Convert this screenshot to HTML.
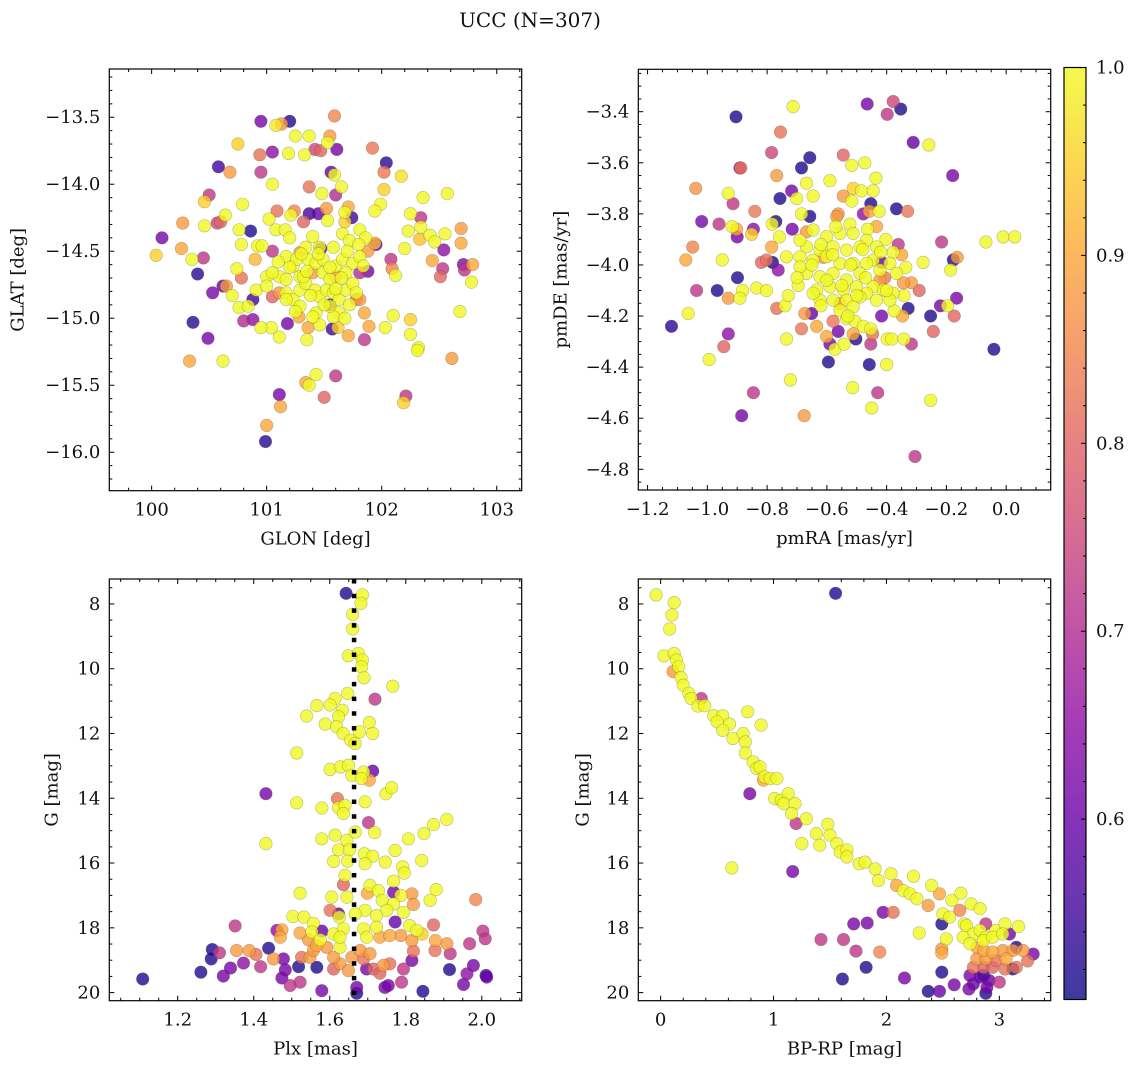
<!DOCTYPE html>
<html><head><meta charset="utf-8">
<style>
html,body{margin:0;padding:0;background:#fff;}
svg{display:block;}
text{font-family:"DejaVu Serif","Liberation Serif",serif;fill:#111;}
</style></head>
<body>
<svg id="fig" width="1136" height="1067" viewBox="0 0 1136 1067" xmlns="http://www.w3.org/2000/svg">
<defs>
<linearGradient id="cbgrad" x1="0" y1="1" x2="0" y2="0">
<stop offset="0" stop-color="#0d0887"/><stop offset="0.1" stop-color="#41049d"/><stop offset="0.2" stop-color="#6a00a8"/><stop offset="0.3" stop-color="#8f0da4"/><stop offset="0.4" stop-color="#b12a90"/><stop offset="0.5" stop-color="#cc4778"/><stop offset="0.6" stop-color="#e16462"/><stop offset="0.7" stop-color="#f2844b"/><stop offset="0.8" stop-color="#fca636"/><stop offset="0.9" stop-color="#fcce25"/><stop offset="1" stop-color="#f0f921"/>
</linearGradient>
</defs>
<text x="530" y="27" text-anchor="middle" font-size="20">UCC (N=307)</text>
</svg>
<script>
// ---------- Panel 1: GLON / GLAT ----------
const glon = [100.95,101.20,101.08,101.13,101.59,101.25,101.37,101.55,101.53,100.75,100.94,101.05,101.19,101.33,101.42,101.47,101.61,101.92,102.04,102.02,102.17,100.58,100.68,100.95,101.56,101.59,101.05,101.37,101.65,101.48,101.60,102.02,102.36,102.57,100.50,100.46,100.79,101.99,101.94,100.64,101.09,101.21,101.24,101.37,101.45,101.52,101.68,101.74,101.71,102.25,102.34,100.27,100.46,100.57,100.60,100.76,100.86,101.02,101.08,101.16,101.32,101.53,101.68,102.23,102.34,102.42,102.55,102.69,102.33,100.09,100.26,100.04,100.35,100.45,100.40,100.78,100.92,100.96,101.05,100.90,100.74,100.78,100.62,100.65,100.53,100.70,100.76,100.84,100.88,100.80,100.88,100.36,100.49,100.33,100.62,102.20,102.46,102.54,102.69,102.44,102.53,102.51,102.71,102.72,102.79,102.78,102.08,102.09,102.12,102.68,102.61,102.25,102.25,102.32,102.31,102.10,102.03,101.89,101.85,101.71,101.85,101.62,101.57,101.46,101.35,101.36,101.18,101.11,101.04,100.95,101.34,101.37,101.43,101.60,101.50,101.11,101.12,101.00,100.99,102.21,102.19,101.78,101.88,101.81,101.88,101.95,101.94,101.47,101.05,101.28,101.55,
101.17,101.23,101.29,101.36,101.43,101.49,101.55,101.60,101.66,101.75,101.81,101.84,101.17,101.23,101.29,101.34,101.42,101.46,101.52,101.58,101.63,101.69,101.75,101.78,101.63,101.58,101.43,101.29,101.11,101.00,100.91,101.00,101.69,101.58,101.66,101.72,101.40,101.46,101.34,101.81,101.86,101.05,101.17,101.55,101.68,101.40,101.32,101.17,101.26,101.49,101.40,101.29,101.60,101.81,101.11,
101.20,101.30,101.45,101.55,101.65,101.70,101.38,101.50,101.25,101.60,101.35,101.72,101.20,101.80,101.10];
const glat = [-13.53,-13.53,-13.56,-13.55,-13.49,-13.64,-13.64,-13.64,-13.69,-13.70,-13.78,-13.76,-13.77,-13.78,-13.74,-13.75,-13.74,-13.73,-13.84,-13.91,-13.94,-13.87,-13.91,-13.91,-13.91,-13.93,-14.00,-14.02,-14.02,-14.07,-14.08,-14.04,-14.10,-14.07,-14.08,-14.13,-14.15,-14.15,-14.20,-14.23,-14.20,-14.23,-14.20,-14.22,-14.22,-14.18,-14.21,-14.25,-14.17,-14.22,-14.25,-14.29,-14.31,-14.29,-14.28,-14.34,-14.35,-14.26,-14.34,-14.34,-14.28,-14.27,-14.28,-14.35,-14.32,-14.38,-14.37,-14.33,-14.41,-14.40,-14.48,-14.53,-14.56,-14.55,-14.67,-14.45,-14.46,-14.46,-14.50,-14.56,-14.63,-14.70,-14.76,-14.76,-14.81,-14.83,-14.92,-14.91,-14.86,-15.02,-15.01,-15.03,-15.15,-15.32,-15.32,-14.48,-14.43,-14.49,-14.44,-14.57,-14.63,-14.69,-14.60,-14.64,-14.60,-14.73,-14.56,-14.63,-14.68,-14.95,-15.30,-15.01,-15.12,-15.22,-15.24,-14.98,-15.07,-15.06,-15.16,-15.13,-14.96,-15.07,-15.08,-15.05,-15.16,-15.07,-15.04,-15.14,-15.07,-15.07,-15.48,-15.50,-15.42,-15.43,-15.59,-15.57,-15.66,-15.80,-15.92,-15.58,-15.63,-14.86,-14.65,-14.66,-14.50,-14.45,-14.44,-14.48,-14.84,-14.99,-14.90,
-14.54,-14.61,-14.69,-14.56,-14.59,-14.66,-14.71,-14.61,-14.56,-14.59,-14.54,-14.61,-14.81,-14.86,-14.79,-14.74,-14.79,-14.84,-14.79,-14.81,-14.86,-14.79,-14.74,-14.81,-14.96,-14.99,-14.96,-14.91,-14.69,-14.69,-14.79,-14.76,-14.66,-14.47,-14.37,-14.42,-14.39,-14.47,-14.47,-14.34,-14.40,-14.66,-14.86,-14.91,-15.00,-14.99,-14.69,-14.71,-14.56,-14.56,-14.66,-14.51,-14.69,-14.86,-14.81,
-14.62,-14.52,-14.52,-14.62,-14.70,-14.50,-14.83,-14.90,-14.95,-14.78,-14.65,-14.90,-14.40,-14.45,-14.58];
const prob1 = [.62,.52,.98,.88,.85,1,1,.88,1,.95,.82,.65,1,1,.75,.8,.62,.83,.53,.83,.97,.55,.88,.72,.6,1,1,.82,1,1,.7,.95,1,1,.72,.95,1,1,1,1,.82,1,.85,.55,.6,.88,1,.55,.9,1,.72,.88,1,.75,.8,1,.52,1,1,1,.8,1,.95,1,1,1,1,.88,.93,.62,.9,.95,1,.72,.53,1,1,1,.72,.92,1,.82,.6,.88,.62,1,1,1,.55,.7,.65,.53,.62,.9,1,1,1,.65,.9,.9,.72,.8,.63,.72,.9,1,.72,.85,1,1,.88,.95,1,1,1,1,1,.9,.72,.9,.9,.95,.55,1,1,.9,.62,1,1,1,.9,1,1,.72,.8,.62,.9,.9,.53,.72,.95,.82,.62,.7,.88,.6,.92,.55,.8,.9,.62,
1,1,1,1,1,1,1,1,1,1,1,1,1,1,1,1,1,1,1,1,1,1,1,1,1,1,1,1,1,1,1,1,1,1,1,1,1,1,1,1,1,1,1,1,1,1,1,1,1,1,.88,.88,.88,.88,.88,
1,1,1,1,1,1,1,1,1,1,1,1,1,1,1];

// ---------- Panel 2: pmRA / pmDE ----------
const pmra = [-0.904,-0.713,-0.465,-0.378,-0.353,-0.398,-0.311,-0.259,-0.755,-0.785,-0.685,-0.657,-0.891,-0.888,-0.545,-0.517,-0.473,-0.768,-0.668,-0.590,-0.436,-0.179,-1.039,-0.930,-0.914,-0.757,-0.718,-0.701,-0.646,-0.545,-0.512,-0.484,-0.445,-0.517,-0.453,-0.367,-0.330,-0.841,-0.478,-0.425,-0.458,-1.019,-0.961,-0.917,-0.902,-0.900,-0.852,-0.846,-0.783,-0.771,-0.759,-0.716,-0.685,-0.657,-0.668,-0.562,-0.523,-0.464,-0.434,-1.049,-1.072,-0.950,-0.899,-1.036,-0.967,-0.930,-0.882,-0.891,-0.835,-0.802,-1.064,-1.120,-0.930,-0.945,-0.994,-0.819,-0.802,-0.782,-0.763,-0.785,-0.768,-0.740,-0.729,-0.696,-0.735,-0.722,-0.685,-0.674,-0.651,-0.634,-0.846,-0.885,-0.676,-0.601,-0.590,-0.573,-0.595,-0.579,-0.562,-0.542,-0.503,-0.512,-0.534,-0.506,-0.478,-0.453,-0.453,-0.447,-0.458,-0.430,-0.450,-0.514,-0.400,-0.398,-0.383,-0.342,-0.317,-0.305,-0.253,-0.244,-0.253,-0.328,-0.347,-0.417,-0.375,-0.220,-0.196,-0.166,-0.174,-0.291,-0.317,-0.344,-0.342,-0.378,-0.278,-0.186,-0.177,-0.164,-0.216,-0.068,-0.010,0.029,-0.041,-0.361,-0.378,-0.350,-0.402,-0.336,-0.417,-0.406,
-0.646,-0.601,-0.556,-0.512,-0.467,-0.434,-0.668,-0.623,-0.579,-0.534,-0.489,-0.445,-0.690,-0.646,-0.601,-0.556,-0.512,-0.467,-0.423,-0.668,-0.623,-0.579,-0.534,-0.489,-0.445,-0.634,-0.590,-0.545,-0.501,-0.467,-0.411,-0.623,-0.579,-0.534,-0.489,-0.434,-0.389,-0.690,-0.735,-0.690,-0.389,-0.367,-0.512,-0.646,-0.556,-0.567,-0.423,-0.556,-0.612,
-0.62,-0.58,-0.52,-0.47,-0.55,-0.60,-0.50,-0.42,-0.65,-0.70,-0.48,-0.57,-0.40,-0.62,-0.53];
const pmde = [-3.42,-3.38,-3.37,-3.36,-3.39,-3.41,-3.52,-3.53,-3.48,-3.56,-3.62,-3.58,-3.62,-3.62,-3.57,-3.61,-3.60,-3.65,-3.68,-3.67,-3.66,-3.65,-3.70,-3.72,-3.76,-3.74,-3.71,-3.74,-3.73,-3.73,-3.70,-3.71,-3.71,-3.75,-3.76,-3.78,-3.79,-3.79,-3.80,-3.79,-3.79,-3.83,-3.84,-3.85,-3.86,-3.89,-3.88,-3.86,-3.84,-3.83,-3.89,-3.86,-3.80,-3.81,-3.87,-3.80,-3.84,-3.86,-3.85,-3.93,-3.98,-3.98,-4.05,-4.10,-4.10,-4.13,-4.10,-4.13,-4.09,-4.10,-4.19,-4.24,-4.27,-4.32,-4.37,-3.99,-3.98,-3.99,-4.02,-3.93,-4.17,-4.16,-4.12,-4.08,-4.29,-4.45,-4.25,-4.19,-4.19,-4.24,-4.50,-4.59,-4.59,-4.28,-4.31,-4.33,-4.38,-4.22,-4.26,-4.31,-4.29,-4.27,-4.21,-4.22,-4.24,-4.25,-4.31,-4.27,-4.39,-4.50,-4.56,-4.48,-4.39,-4.29,-4.29,-4.29,-4.31,-4.75,-4.53,-4.26,-4.20,-4.17,-4.20,-4.20,-4.18,-4.16,-4.16,-4.13,-4.20,-4.10,-4.07,-4.07,-4.12,-4.11,-3.99,-4.02,-3.98,-3.97,-3.91,-3.91,-3.89,-3.89,-4.33,-3.92,-3.95,-3.96,-3.90,-4.01,-3.99,-4.05,
-3.863,-3.889,-3.877,-3.877,-3.903,-3.929,-3.929,-3.942,-3.929,-3.942,-3.929,-3.981,-3.968,-3.981,-3.968,-3.994,-3.994,-3.994,-4.020,-4.033,-4.046,-4.033,-4.059,-4.033,-4.085,-4.098,-4.085,-4.098,-4.085,-4.111,-4.098,-4.138,-4.138,-4.138,-4.125,-4.138,-4.138,-4.007,-3.968,-3.903,-3.994,-4.033,-4.164,-4.111,-4.177,-3.81,-4.06,-4.15,-3.97,
-3.92,-3.96,-4.00,-4.05,-4.08,-4.06,-4.12,-3.95,-4.00,-4.05,-3.94,-3.85,-4.10,-4.16,-4.20];
const prob2 = [.52,1,.62,.75,.52,.72,.6,1,.82,.75,.52,.52,.65,.82,.8,1,1,.88,1,1,1,.62,.87,1,.72,.52,.62,1,1,.88,.95,1,1,1,.52,.52,.83,.83,.65,1,.9,.62,.72,1,.9,.62,.95,.65,1,.52,1,.62,1,.52,.88,.88,1,1,.9,.85,.9,1,.52,.72,.52,.88,1,1,1,1,1,.53,.65,.8,1,.8,.82,.52,.65,.9,.82,1,1,1,1,1,.83,.88,.6,.9,.72,.62,.88,.9,.62,1,.52,.83,.62,1,.52,.9,1,1,1,1,.72,.82,.52,.72,1,1,1,1,1,1,.72,.72,1,.8,.52,.52,.9,.62,1,.62,1,.62,.8,.8,.88,.88,1,1,1,1,.52,.88,.72,1,1,1,.52,.72,1,.9,1,1,.6,.83,
1,1,1,1,1,1,1,1,1,1,1,1,1,1,1,1,1,1,1,1,1,1,1,1,1,1,1,1,1,1,1,1,1,1,1,1,1,1,1,1,1,1,1,1,1,.88,.88,.88,.88,
1,1,1,1,1,1,1,1,1,1,1,1,1,1,1];

// ---------- Panel 3: Plx / G ----------
const plx = [1.643,1.686,1.682,1.660,1.660,1.649,1.675,1.686,1.684,1.690,1.766,1.719,1.647,1.614,1.566,1.601,1.539,1.633,1.623,1.588,1.618,1.635,1.704,1.713,1.678,1.655,1.667,1.513,1.601,1.628,1.649,1.658,1.689,1.683,1.713,1.704,1.432,1.513,1.579,1.620,1.623,1.640,1.636,1.693,1.748,1.763,1.702,1.432,1.579,1.614,1.645,1.667,1.718,1.623,1.652,1.691,1.713,1.610,1.647,1.693,1.746,1.772,1.807,1.842,1.848,1.873,1.908,1.792,1.796,1.768,1.640,1.636,1.522,1.605,1.645,1.706,1.728,1.768,1.699,1.738,1.787,1.816,1.880,1.864,1.984,1.820,1.768,1.794,1.750,1.693,1.601,1.623,1.503,1.532,1.557,1.625,1.667,1.723,1.772,1.810,1.873,1.351,1.474,1.470,1.461,1.522,1.553,1.579,1.575,1.610,1.636,1.689,1.723,1.697,1.732,1.758,1.787,1.816,1.843,1.878,1.908,1.968,2.003,2.009,1.291,1.310,1.288,1.355,1.388,1.406,1.373,1.339,1.320,1.261,1.108,1.418,1.439,1.452,1.478,1.483,1.474,1.496,1.522,1.518,1.526,1.548,1.566,1.579,1.610,1.627,1.649,1.658,1.671,1.671,1.697,1.715,1.741,1.732,1.758,1.745,1.754,1.794,1.789,1.816,1.820,1.845,1.877,1.917,1.915,1.978,1.961,1.952,2.011,2.013,1.544,1.592,1.627,1.566,1.680,1.706,1.557,1.610,1.689,1.627,1.829];
const gmag3 = [7.67,7.72,7.98,8.32,8.77,9.60,9.53,9.73,9.94,10.28,10.54,10.94,10.76,10.92,11.14,11.12,11.46,11.28,11.48,11.71,11.79,12.00,11.66,12.00,11.95,12.21,12.31,12.60,13.11,13.03,12.98,13.29,13.19,13.39,13.16,13.44,13.86,14.14,14.30,14.01,14.29,14.22,14.47,14.11,13.86,13.67,14.75,15.40,15.25,15.14,15.30,15.04,15.06,15.59,15.59,15.71,15.79,15.95,15.94,16.02,15.97,15.61,15.25,15.92,15.09,14.81,14.65,16.12,16.31,16.56,16.38,16.67,16.93,17.05,17.05,16.69,16.85,16.90,16.93,17.15,17.00,16.95,16.82,17.15,17.13,17.28,17.26,17.52,17.46,17.46,17.46,17.57,17.65,17.67,17.86,17.67,17.57,17.62,17.82,17.93,17.91,17.94,18.06,18.29,18.08,18.16,18.13,18.10,18.37,18.19,18.03,18.03,17.98,18.29,18.29,18.24,18.24,18.39,18.19,18.39,18.49,18.49,18.10,18.34,18.67,18.77,18.96,18.70,18.70,18.82,19.09,19.24,19.49,19.37,19.58,19.20,18.63,18.96,18.96,19.30,19.55,19.78,19.68,19.20,18.91,18.91,19.22,19.94,19.27,19.11,19.32,18.91,19.84,20.02,19.27,19.27,19.16,19.40,19.11,19.84,19.78,19.27,19.68,19.01,18.72,19.96,18.70,18.80,19.29,19.16,19.42,19.75,19.47,19.52,18.37,18.60,18.60,18.55,18.70,18.80,18.70,18.91,18.96,18.29,18.08];
const prob3 = [.52,1,1,1,1,1,1,1,1,1,1,.72,1,1,1,1,1,1,1,1,1,1,1,1,1,1,1,1,1,1,1,1,1,1,.6,.9,.62,1,1,.82,1,1,1,1,1,1,.72,1,1,1,1,1,1,1,1,1,1,1,1,1,1,1,1,1,1,1,1,1,1,1,1,.8,1,1,1,1,1,.62,.9,1,1,.88,1,1,.85,.88,1,1,1,1,.82,.6,1,1,1,1,1,1,.6,1,.8,.72,.9,.9,.65,.9,1,.6,1,1,1,1,1,1,.9,.9,.88,.88,.95,.9,.88,.72,.72,.72,.52,.72,.52,.88,.88,.82,.65,.62,.62,.52,.52,.72,.52,.88,.62,.62,.62,.72,.72,.52,.82,.88,.52,.62,.8,.88,.88,.88,.62,.52,.62,.8,.88,.8,.82,.62,.62,.72,.72,.62,.82,.52,.82,.72,.52,.62,.65,.62,.55,.6,.88,.88,1,.9,.88,.88,.88,.88,.82,1,1];

// ---------- Panel 4: BP-RP / G ----------
const bprp = [-0.04,0.12,0.10,0.08,1.55,0.03,0.12,0.14,0.16,0.11,0.18,0.20,0.25,0.36,0.27,0.33,0.39,0.47,0.55,0.50,0.61,0.55,0.64,0.73,0.75,0.77,0.89,0.75,0.82,0.85,0.88,0.92,0.91,0.97,1.03,0.79,1.01,1.07,1.13,1.09,1.19,1.16,1.20,1.29,1.25,0.63,1.17,1.38,1.48,1.50,1.41,1.56,1.59,1.65,1.65,1.76,1.81,1.90,1.93,2.04,2.09,2.15,2.24,2.21,2.27,2.37,2.40,2.47,2.50,2.58,2.65,2.66,2.75,2.83,2.69,2.56,2.49,2.29,2.53,2.49,2.49,1.97,2.06,1.71,1.83,1.42,1.62,1.73,1.94,1.82,1.61,2.16,2.37,2.47,2.49,2.60,
2.71,2.77,2.83,2.88,2.97,3.05,3.17,2.68,2.74,2.86,2.94,3.03,3.09,2.88,2.80,2.86,2.94,3.03,3.12,3.21,3.15,3.30,3.25,2.80,2.88,2.97,3.06,2.77,2.86,2.94,3.05,3.15,3.12,2.74,2.83,2.91,3.00,2.77,2.89,2.73,2.88,2.86];
const gmag4 = [7.72,7.96,8.34,8.77,7.67,9.60,9.53,9.73,9.94,10.09,10.27,10.51,10.76,10.92,10.92,11.15,11.14,11.45,11.45,11.64,11.71,11.90,12.15,12.00,12.26,11.33,11.74,12.60,12.88,13.08,13.03,13.34,13.44,13.39,13.39,13.86,14.01,14.06,13.86,14.16,14.16,14.47,14.78,14.63,15.40,16.15,16.26,15.09,14.80,15.14,15.45,15.40,15.66,15.59,15.81,16.02,15.97,16.18,16.54,16.33,16.69,16.85,16.41,16.95,17.10,17.31,16.69,16.95,17.57,17.15,17.46,16.93,17.26,17.41,17.88,17.67,17.88,18.16,18.34,18.65,18.78,17.52,17.52,17.88,17.85,18.36,18.36,18.72,18.75,19.22,19.58,19.55,19.96,19.96,19.37,19.76,
17.93,18.19,18.08,18.29,18.08,17.88,17.96,18.29,18.49,18.39,18.29,18.19,18.19,17.88,18.60,18.70,18.75,18.70,18.70,18.70,18.60,18.81,19.02,18.96,18.96,19.01,18.96,19.22,19.22,19.22,19.27,19.22,19.27,19.47,19.52,19.63,19.68,19.73,19.84,19.89,20.02,19.47];
const prob4 = [1,1,1,1,.52,1,1,1,1,.88,1,1,1,.72,1,1,1,1,1,1,1,1,1,1,1,1,1,1,1,1,1,1,.9,1,1,.62,1,1,1,1,1,1,.72,1,1,1,.62,1,1,1,1,1,1,1,1,1,1,1,1,1,.9,1,1,1,1,.88,1,.9,1,1,.85,1,1,1,1,1,.52,1,1,.88,.9,.62,.82,.62,.62,.72,.72,.72,.85,.52,.52,.62,.52,.6,.52,.62,
1,1,1,1,1,1,1,1,1,1,1,1,.62,.72,.9,.9,.9,.88,.88,.88,.52,.62,.82,.88,.88,.82,.9,.82,.8,.8,.82,.82,.52,.62,.6,.6,.72,.6,.62,.62,.52,.52];

const plxMean = [1.664];
const cbTicks = [0.6,0.7,0.8,0.9,1.0];
const probMin = 0.504, probMax = 1.0;

const NS = 'http://www.w3.org/2000/svg';
const svg = document.getElementById('fig');
function mk(tag, attrs, parent){
  const e = document.createElementNS(NS, tag);
  for (const k in attrs) e.setAttribute(k, attrs[k]);
  (parent||svg).appendChild(e);
  return e;
}
const stops = [[13,8,135],[65,4,157],[106,0,168],[143,13,164],[177,42,144],[204,71,120],[225,100,98],[242,132,75],[252,166,54],[252,206,37],[240,249,33]];
function plasma(p){
  let t = (p - probMin)/(probMax - probMin);
  t = Math.max(0, Math.min(1, t));
  const f = t*10, i = Math.min(9, Math.floor(f)), r = f - i;
  const a = stops[i], b = stops[i+1];
  return 'rgb(' + [0,1,2].map(k => Math.round(a[k] + (b[k]-a[k])*r)).join(',') + ')';
}
function fmt(v, d){ const s = v.toFixed(d); return s.replace('-', '\u2212'); }

const FS = 18;
const panels = [
 {name:'sky', L:109.3, R:521.7, T:69, B:490.7, x0:99.632, x1:103.217, yT:-13.14, yB:-16.287,
  xMaj:[100,101,102,103], xMin:0.2, xd:0, yMaj:[-13.5,-14,-14.5,-15,-15.5,-16], yMin:0.1, yd:1,
  xs:glon, ys:glat, ps:prob1, xl:'GLON [deg]', yl:'GLAT [deg]', ylx:18},
 {name:'pm', L:638.3, R:1050.7, T:69.3, B:490, x0:-1.231, x1:0.149, yT:-3.234, yB:-4.881,
  xMaj:[-1.2,-1.0,-0.8,-0.6,-0.4,-0.2,0.0], xMin:0.05, xd:1, yMaj:[-3.4,-3.6,-3.8,-4.0,-4.2,-4.4,-4.6,-4.8], yMin:0.05, yd:1,
  xs:pmra, ys:pmde, ps:prob2, xl:'pmRA [mas/yr]', yl:'pmDE [mas/yr]', ylx:561},
 {name:'plx', L:109.3, R:521.7, T:579, B:1000.7, x0:1.02, x1:2.105, yT:7.23, yB:20.25,
  xMaj:[1.2,1.4,1.6,1.8,2.0], xMin:0.05, xd:1, yMaj:[8,10,12,14,16,18,20], yMin:0.5, yd:0,
  xs:plx, ys:gmag3, ps:prob3, xl:'Plx [mas]', yl:'G [mag]', ylx:52},
 {name:'cmd', L:638.3, R:1050.7, T:579, B:1000.7, x0:-0.198, x1:3.455, yT:7.23, yB:20.25,
  xMaj:[0,1,2,3], xMin:0.2, xd:0, yMaj:[8,10,12,14,16,18,20], yMin:0.5, yd:0,
  xs:bprp, ys:gmag4, ps:prob4, xl:'BP-RP [mag]', yl:'G [mag]', ylx:583}
];

panels.forEach(P => {
  const X = v => P.L + (v - P.x0)/(P.x1 - P.x0)*(P.R - P.L);
  const Y = v => P.T + (v - P.yT)/(P.yB - P.yT)*(P.B - P.T);
  const g = mk('g', {});
  
  
  const clipId = 'clip-' + P.name;
  const cp = mk('clipPath', {id: clipId}, g);
  mk('rect', {x:P.L, y:P.T, width:P.R-P.L, height:P.B-P.T}, cp);
  const pts = mk('g', {'clip-path':'url(#' + clipId + ')'}, g);
  
  
  const idx = P.xs.map((_, i) => i).sort((a, b) => P.ps[a] - P.ps[b]);
  idx.forEach(i => {
    const c = mk('circle', {cx:X(P.xs[i]).toFixed(1), cy:Y(P.ys[i]).toFixed(1), r:6.3, fill:plasma(P.ps[i]), 'fill-opacity':0.8, stroke:'rgba(70,70,40,0.35)', 'stroke-width':0.6}, pts);
    
    
  });
  if (P.name === 'plx') {
    plxMean.forEach(m => {
      const ln = mk('line', {x1:X(m), x2:X(m), y1:P.T, y2:P.B, stroke:'#000', 'stroke-width':4.5, 'stroke-dasharray':'4.5 10.2'}, pts);
      
      
    });
  }
  const tk = mk('g', {stroke:'#000', 'stroke-width':1}, g);
  
  
  const xa = Math.ceil(P.x0/P.xMin - 1e-6), xb = Math.floor(P.x1/P.xMin + 1e-6);
  for (let k = xa; k <= xb; k++) {
    const v = k*P.xMin, px = X(v);
    const maj = P.xMaj.some(m => Math.abs(m - v) < 1e-6);
    const len = maj ? 5 : 3;
    mk('line', {x1:px, x2:px, y1:P.B, y2:P.B - len}, tk);
    mk('line', {x1:px, x2:px, y1:P.T, y2:P.T + len}, tk);
  }
  const ylo = Math.min(P.yT, P.yB), yhi = Math.max(P.yT, P.yB);
  const ya = Math.ceil(ylo/P.yMin - 1e-6), yb = Math.floor(yhi/P.yMin + 1e-6);
  for (let k = ya; k <= yb; k++) {
    const v = k*P.yMin, py = Y(v);
    const maj = P.yMaj.some(m => Math.abs(m - v) < 1e-6);
    const len = maj ? 5 : 3;
    mk('line', {x1:P.L, x2:P.L + len, y1:py, y2:py}, tk);
    mk('line', {x1:P.R, x2:P.R - len, y1:py, y2:py}, tk);
  }
  const fr = mk('rect', {x:P.L, y:P.T, width:P.R-P.L, height:P.B-P.T, fill:'none', stroke:'#000', 'stroke-width':1.2}, g);
  
  
  P.xMaj.forEach(v => {
    const t = mk('text', {x:X(v), y:P.B + 25, 'text-anchor':'middle', 'font-size':FS}, g);
    t.textContent = fmt(v, P.xd);
    
    
  });
  P.yMaj.forEach(v => {
    const t = mk('text', {x:P.L - 9, y:Y(v) + 6, 'text-anchor':'end', 'font-size':FS}, g);
    t.textContent = fmt(v, P.yd);
    
    
  });
  const xt = mk('text', {x:(P.L + P.R)/2, y:P.B + 54, 'text-anchor':'middle', 'font-size':FS}, g);
  xt.textContent = P.xl;
  
  
  const cy = (P.T + P.B)/2;
  const yt = mk('text', {x:P.ylx, y:cy, 'text-anchor':'middle', 'dominant-baseline':'central', 'font-size':FS, transform:'rotate(-90 ' + P.ylx + ' ' + cy + ')'}, g);
  yt.textContent = P.yl;
  
  
});

const cbL = 1064, cbR = 1086, cbT = 67.5, cbB = 999.5;
const cbY = p => cbT + (probMax - p)/(probMax - probMin)*(cbB - cbT);
const cb = mk('g', {});


mk('rect', {x:cbL, y:cbT, width:cbR-cbL, height:cbB-cbT, fill:'url(#cbgrad)', 'fill-opacity':0.8}, cb);
for (let k = 26; k <= 50; k++) {
  const v = k*0.02; if (v < probMin) continue;
  const maj = Math.abs(v*10 - Math.round(v*10)) < 1e-6;
  mk('line', {x1:cbR, x2:cbR - (maj ? 5 : 3), y1:cbY(v), y2:cbY(v), stroke:'#000', 'stroke-width':1}, cb);
}
mk('rect', {x:cbL, y:cbT, width:cbR-cbL, height:cbB-cbT, fill:'none', stroke:'#000', 'stroke-width':1.2}, cb);
cbTicks.forEach(v => {
  const t = mk('text', {x:cbR + 10, y:cbY(v) + 6, 'font-size':FS}, cb);
  t.textContent = v.toFixed(1);
  
  
});
</script>
</body></html>
